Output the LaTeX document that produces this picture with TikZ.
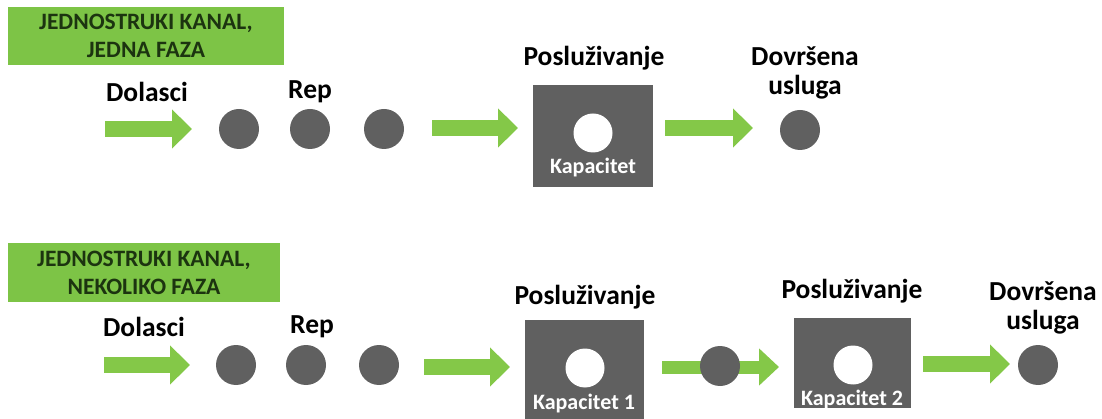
\documentclass[tikz,border=0pt]{standalone}
\usepackage{fontspec}
\setmainfont{Carlito}
\usetikzlibrary{arrows.meta}
\definecolor{lblgreen}{RGB}{125,196,70}
\definecolor{txtgreen}{RGB}{28,52,16}
\definecolor{arrgreen}{RGB}{132,200,72}
\definecolor{dgrey}{RGB}{96,96,96}
\tikzset{
  titlebox/.style={fill=lblgreen, text=txtgreen, font=\bfseries\fontsize{23.5}{28}\selectfont, align=center, inner sep=0pt},
  lbl/.style={font=\bfseries\fontsize{27.5}{29}\selectfont, text=black, align=center, inner sep=0pt},
  dot/.style={circle, fill=dgrey, minimum size=40pt, inner sep=0pt},
  hole/.style={circle, fill=white, minimum size=39pt, inner sep=0pt},
  server/.style={fill=dgrey, inner sep=0pt},
  captxt/.style={font=\bfseries\fontsize{22}{24}\selectfont, text=white, inner sep=0pt},
  garrow/.style={draw=arrgreen, line width=16pt, -{Triangle[length=20pt,width=38pt]}},
  garrowb/.style={draw=arrgreen, line width=13pt, -{Triangle[length=20pt,width=36pt]}}
}
\begin{document}
\begin{tikzpicture}[x=1pt,y=-1pt]
\useasboundingbox (0,0) rectangle (1102,419);
% ---------- top ----------
\node[titlebox, minimum width=276pt, minimum height=58pt] (t1) at (146,36) {JEDNOSTRUKI KANAL,\\JEDNA FAZA};
\node[lbl] (dol1) at (147,92) {Dolasci};
\node[lbl] (rep1) at (310,92) {Rep};
\coordinate (a1s) at (105,129); \coordinate (a1e) at (192,129);
\draw[garrow] (a1s) -- (a1e);
\node[dot] (q11) at (239,129) {};
\node[dot] (q12) at (310,129) {};
\node[dot] (q13) at (384,129) {};
\coordinate (a2s) at (432,128); \coordinate (a2e) at (518,128);
\draw[garrow] (a2s) -- (a2e);
\node[lbl] (pos1) at (594,58) {Posluživanje};
\node[server, minimum width=120pt, minimum height=102pt] (s1) at (593,136) {};
\node[hole] (h1) at (593,133) {};
\node[captxt] (k1) at (593,168) {Kapacitet};
\coordinate (a3s) at (665,128); \coordinate (a3e) at (753,128);
\draw[garrow] (a3s) -- (a3e);
\node[dot] (d1) at (800,130) {};
\node[lbl] (dov1) at (805,73) {Dovršena\\usluga};
% ---------- bottom ----------
\node[titlebox, minimum width=272pt, minimum height=59pt] (t2) at (144,272.5) {JEDNOSTRUKI KANAL,\\NEKOLIKO FAZA};
\node[lbl] (dol2) at (144,327) {Dolasci};
\node[lbl] (rep2) at (312,327) {Rep};
\coordinate (b1s) at (104,365); \coordinate (b1e) at (190,365);
\draw[garrow] (b1s) -- (b1e);
\node[dot] (q21) at (236,365) {};
\node[dot] (q22) at (306,365) {};
\node[dot] (q23) at (379,365) {};
\coordinate (b2s) at (424,367); \coordinate (b2e) at (510,367);
\draw[garrow] (b2s) -- (b2e);
\node[lbl] (pos2) at (585,297) {Posluživanje};
\node[server, minimum width=119pt, minimum height=99pt] (s2) at (584.5,369.5) {};
\node[hole] (h2) at (585,368) {};
\node[captxt] (k2) at (584,404) {Kapacitet 1};
\coordinate (b3s) at (662,367); \coordinate (b3e) at (779,367);
\draw[garrowb] (b3s) -- (b3e);
\node[dot] (m2) at (720,366) {};
\node[lbl] (pos3) at (852,291) {Posluživanje};
\node[server, minimum width=117pt, minimum height=90pt] (s3) at (852.5,363) {};
\node[hole] (h3) at (853,365) {};
\node[captxt] (k3) at (852,400) {Kapacitet 2};
\coordinate (b4s) at (923,364); \coordinate (b4e) at (1010,364);
\draw[garrow] (b4s) -- (b4e);
\node[dot] (d2) at (1038,365) {};
\node[lbl] (dov2) at (1043,308) {Dovršena\\usluga};
\end{tikzpicture}
\end{document}
